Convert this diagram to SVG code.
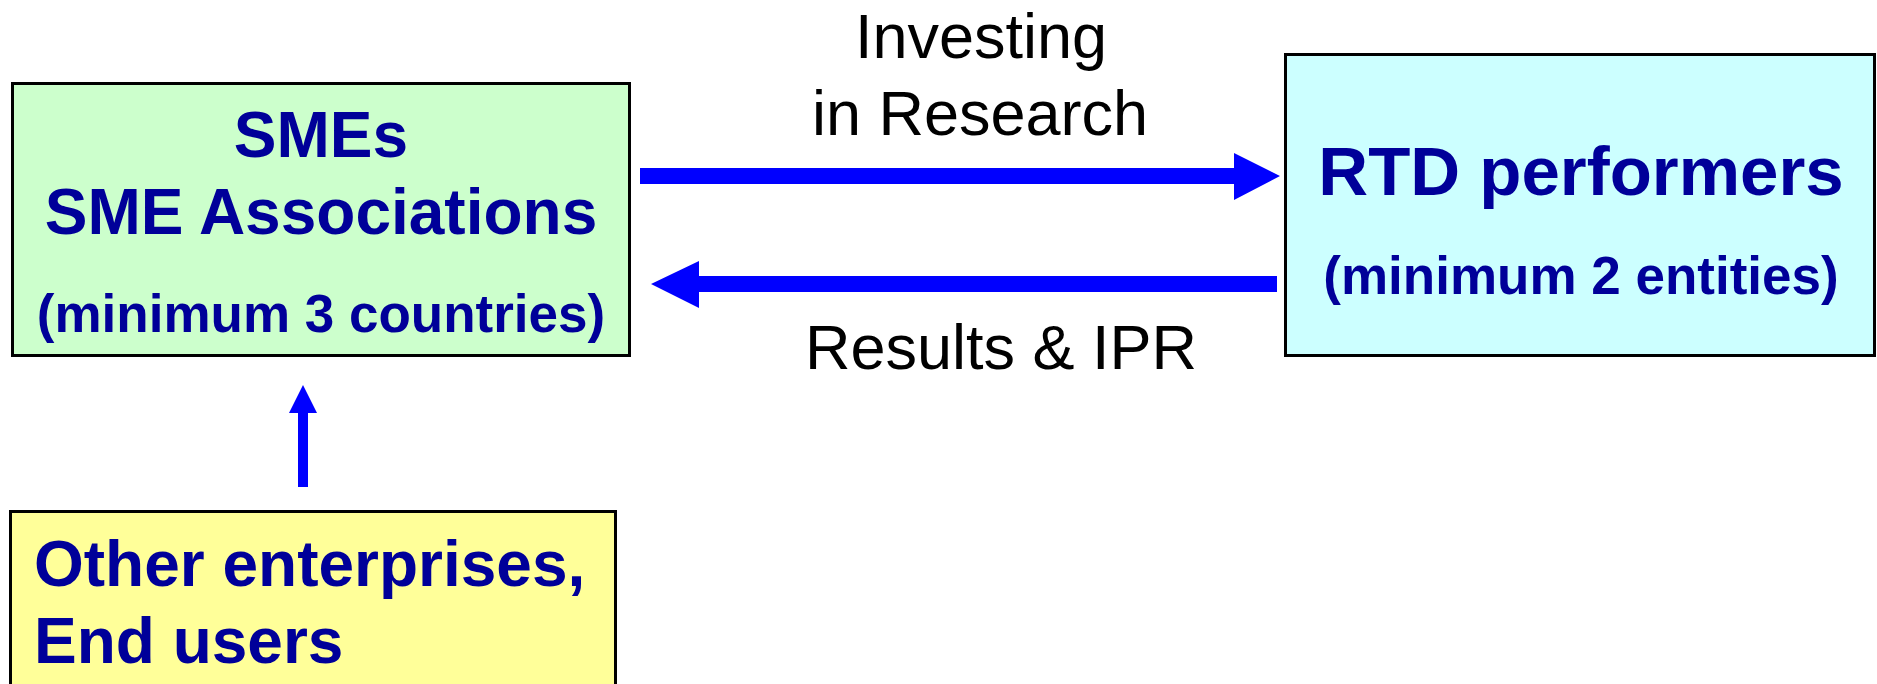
<svg xmlns="http://www.w3.org/2000/svg" width="1877" height="684" viewBox="0 0 1877 684">
<style>
.box{stroke:#000;stroke-width:3}
.t{font-family:"Liberation Sans",Arial,sans-serif;font-weight:bold;fill:#000099}
.l{font-family:"Liberation Sans",Arial,sans-serif;fill:#000;font-size:63px;text-anchor:middle}
.arr{fill:#0000FF}
</style>
<rect width="1877" height="684" fill="#fff"/>
<g id="smes">
<rect class="box" x="12.5" y="83.5" width="617" height="272" fill="#CCFFCC"/>
<text class="t" x="321" y="157" font-size="64" text-anchor="middle">SMEs</text>
<text class="t" x="321" y="234" font-size="64" text-anchor="middle">SME Associations</text>
<text class="t" x="321" y="332" font-size="53" text-anchor="middle">(minimum 3 countries)</text>
</g>
<g id="rtd">
<rect class="box" x="1285.5" y="54.5" width="589" height="301" fill="#CCFFFF"/>
<text class="t" x="1581" y="195" font-size="69" text-anchor="middle">RTD performers</text>
<text class="t" x="1581" y="294" font-size="53" text-anchor="middle">(minimum 2 entities)</text>
</g>
<g id="others">
<rect class="box" x="10.5" y="511.5" width="605" height="180" fill="#FFFF99"/>
<text class="t" x="34" y="586" font-size="64">Other enterprises,</text>
<text class="t" x="34" y="663" font-size="64">End users</text>
</g>
<g id="connectors">
<path class="arr" d="M640 168 H1234 V153 L1280 176 L1234 200 V184 H640 Z"/>
<path class="arr" d="M1277 276 H699 V261 L651 284 L699 308 V292 H1277 Z"/>
<path class="arr" d="M298 487 V413 H289 L303 385 L317 413 H308 V487 Z"/>
<text class="l" x="981" y="58">Investing</text>
<text class="l" x="980" y="135">in Research</text>
<text class="l" x="1001" y="369">Results &amp; IPR</text>
</g>
</svg>
